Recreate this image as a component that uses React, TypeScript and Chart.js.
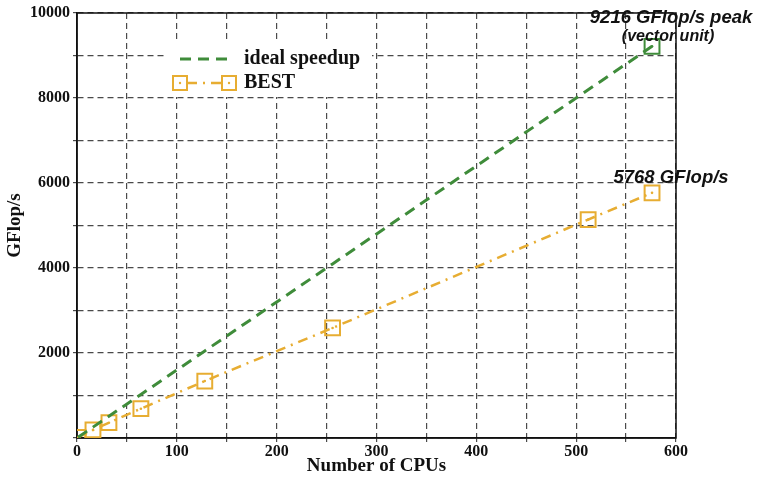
import React, { useEffect, useRef } from "react";
import { Chart, registerables } from "chart.js";

Chart.register(...registerables);

const cpus = [1, 16, 32, 64, 128, 256, 512, 576];
const idealValues = [16, 256, 512, 1024, 2048, 4096, 8192, 9216];
const bestValues = [12, 190, 360, 690, 1340, 2590, 5140, 5768];
const xTickLabels = [0, 100, 200, 300, 400, 500, 600];
const yTickLabels = [2000, 4000, 6000, 8000, 10000];
const legendLabels = ["ideal speedup", "BEST"];
const peakLabel = "9216 GFlop/s peak";
const peakSubLabel = "(vector unit)";
const bestLabel = "5768 GFlop/s";

const GREEN = "#3f8c3a";
const ORANGE = "#e7ad32";
const SERIF = "'Liberation Serif', 'Times New Roman', serif";
const SANS = "'Liberation Sans', Arial, sans-serif";

const annotationPlugin = {
  id: "annot",
  afterDraw(chart: any) {
    const ctx = chart.ctx;
    const xs = chart.scales.x;
    const ys = chart.scales.y;
    ctx.save();
    ctx.fillStyle = "#111";
    ctx.textBaseline = "middle";
    ctx.textAlign = "center";
    const px = xs.getPixelForValue(cpus[cpus.length - 1]);
    const pyI = ys.getPixelForValue(idealValues[idealValues.length - 1]);
    const pyB = ys.getPixelForValue(bestValues[bestValues.length - 1]);
    ctx.font = "italic bold 18.5px " + SANS;
    ctx.fillText(peakLabel, px + 19, pyI - 28);
    ctx.font = "italic bold 16px " + SANS;
    ctx.fillText(peakSubLabel, px + 16, pyI - 10);
    ctx.font = "italic bold 18.5px " + SANS;
    ctx.fillText(bestLabel, px + 19, pyB - 15);
    ctx.restore();
  },
};

const legendPlugin = {
  id: "customLegend",
  beforeDatasetsDraw(chart: any) {
    const ctx = chart.ctx;
    ctx.save();
    ctx.fillStyle = "#fff";
    ctx.fillRect(165, 43, 207, 54);
    const lx0 = 180, lx1 = 229, ly1 = 59, ly2 = 83, tx = 244;
    ctx.lineWidth = 3;
    ctx.strokeStyle = GREEN;
    ctx.setLineDash([11, 7]);
    ctx.beginPath();
    ctx.moveTo(lx0, ly1);
    ctx.lineTo(lx1, ly1);
    ctx.stroke();
    ctx.strokeStyle = ORANGE;
    ctx.lineWidth = 2.5;
    ctx.setLineDash([10, 6, 2, 6]);
    ctx.beginPath();
    ctx.moveTo(lx0 + 7, ly2);
    ctx.lineTo(lx1 - 7, ly2);
    ctx.stroke();
    ctx.setLineDash([]);
    ctx.lineWidth = 2;
    [lx0, lx1].forEach((x) => {
      ctx.strokeRect(x - 7, ly2 - 7, 14, 14);
      ctx.fillStyle = ORANGE;
      ctx.beginPath();
      ctx.arc(x, ly2, 1.2, 0, Math.PI * 2);
      ctx.fill();
    });
    ctx.fillStyle = "#111";
    ctx.textAlign = "left";
    ctx.textBaseline = "middle";
    ctx.font = "bold 20px " + SERIF;
    ctx.fillText(legendLabels[0], tx, ly1);
    ctx.fillText(legendLabels[1], tx, ly2);
    ctx.restore();
  },
};

export default function App() {
  const ref = useRef<HTMLCanvasElement | null>(null);
  useEffect(() => {
    if (!ref.current) return;
    const tickFont = { family: SERIF, size: 16, weight: "bold" as const };
    const titleFont = { family: SERIF, size: 19, weight: "bold" as const };
    const chart = new Chart(ref.current, {
      type: "line",
      data: {
        labels: cpus,
        datasets: [
          {
            label: legendLabels[0],
            data: cpus.map((c, i) => ({ x: c, y: idealValues[i] })),
            borderColor: GREEN,
            borderWidth: 3,
            borderDash: [11, 7],
            pointStyle: "rect",
            pointRadius: cpus.map((_, i) => (i === cpus.length - 1 ? 10.5 : 0)),
            pointBorderWidth: 2,
            pointBorderColor: GREEN,
            pointBackgroundColor: "rgba(0,0,0,0)",
            fill: false,
          },
          {
            label: legendLabels[1],
            data: cpus.map((c, i) => ({ x: c, y: bestValues[i] })),
            borderColor: ORANGE,
            borderWidth: 2.5,
            borderDash: [10, 6, 2, 6],
            pointStyle: "rect",
            pointRadius: 10.5,
            pointBorderWidth: 2,
            pointBorderColor: ORANGE,
            pointBackgroundColor: "rgba(0,0,0,0)",
            fill: false,
          },
          {
            label: "dots",
            data: cpus.map((c, i) => ({ x: c, y: bestValues[i] })),
            showLine: false,
            pointRadius: 1.3,
            pointBackgroundColor: ORANGE,
            pointBorderWidth: 0,
          },
          {
            label: "dotsI",
            data: [{ x: cpus[cpus.length - 1], y: idealValues[idealValues.length - 1] }],
            showLine: false,
            pointRadius: 1.3,
            pointBackgroundColor: GREEN,
            pointBorderWidth: 0,
          },
        ],
      },
      options: {
        animation: false,
        responsive: false,
        layout: { padding: { top: 13, right: 81, left: 4, bottom: 0 } },
        plugins: { legend: { display: false }, tooltip: { enabled: false } },
        scales: {
          x: {
            type: "linear",
            min: 0,
            max: 600,
            afterFit: (s: any) => { s.height = 39; },
            ticks: {
              stepSize: 50,
              color: "#111",
              font: tickFont,
              padding: 0,
              maxRotation: 0,
              autoSkip: false,
              callback: (v: any) => (xTickLabels.includes(Number(v)) ? String(v) : ""),
            },
            grid: { color: "#4a4a4a", lineWidth: 1.2, tickLength: 4 },
            border: { color: "#111", width: 1.5, dash: [6, 4] },
            title: {
              display: true,
              text: "Number of CPUs",
              color: "#111",
              font: titleFont,
              padding: { top: 0, bottom: 0 },
            },
          },
          y: {
            type: "linear",
            min: 0,
            max: 10000,
            afterFit: (s: any) => { s.width = 73; },
            ticks: {
              stepSize: 1000,
              color: "#111",
              font: tickFont,
              padding: 3,
              autoSkip: false,
              callback: (v: any) => (yTickLabels.includes(Number(v)) ? String(v) : ""),
            },
            grid: { color: "#4a4a4a", lineWidth: 1.2, tickLength: 4 },
            border: { color: "#111", width: 1.5, dash: [6, 4] },
            title: {
              display: true,
              text: "GFlop/s",
              color: "#111",
              font: titleFont,
              padding: { top: 0, bottom: 0 },
            },
          },
        },
      },
      plugins: [
        {
          id: "frame",
          beforeDatasetsDraw(chart: any) {
            const { ctx, chartArea: a } = chart;
            ctx.save();
            ctx.strokeStyle = "#111";
            ctx.lineWidth = 1.5;
            ctx.setLineDash([]);
            ctx.strokeRect(a.left, a.top, a.right - a.left, a.bottom - a.top);
            ctx.restore();
          },
        },
        legendPlugin,
        annotationPlugin,
      ],
    } as any);
    return () => chart.destroy();
  }, []);
  return (
    <div style={{ position: "fixed", left: 0, top: 0, width: 757, height: 477, background: "#fff" }}>
      <canvas ref={ref} width={757} height={477} style={{ width: 757, height: 477 }} />
    </div>
  );
}
